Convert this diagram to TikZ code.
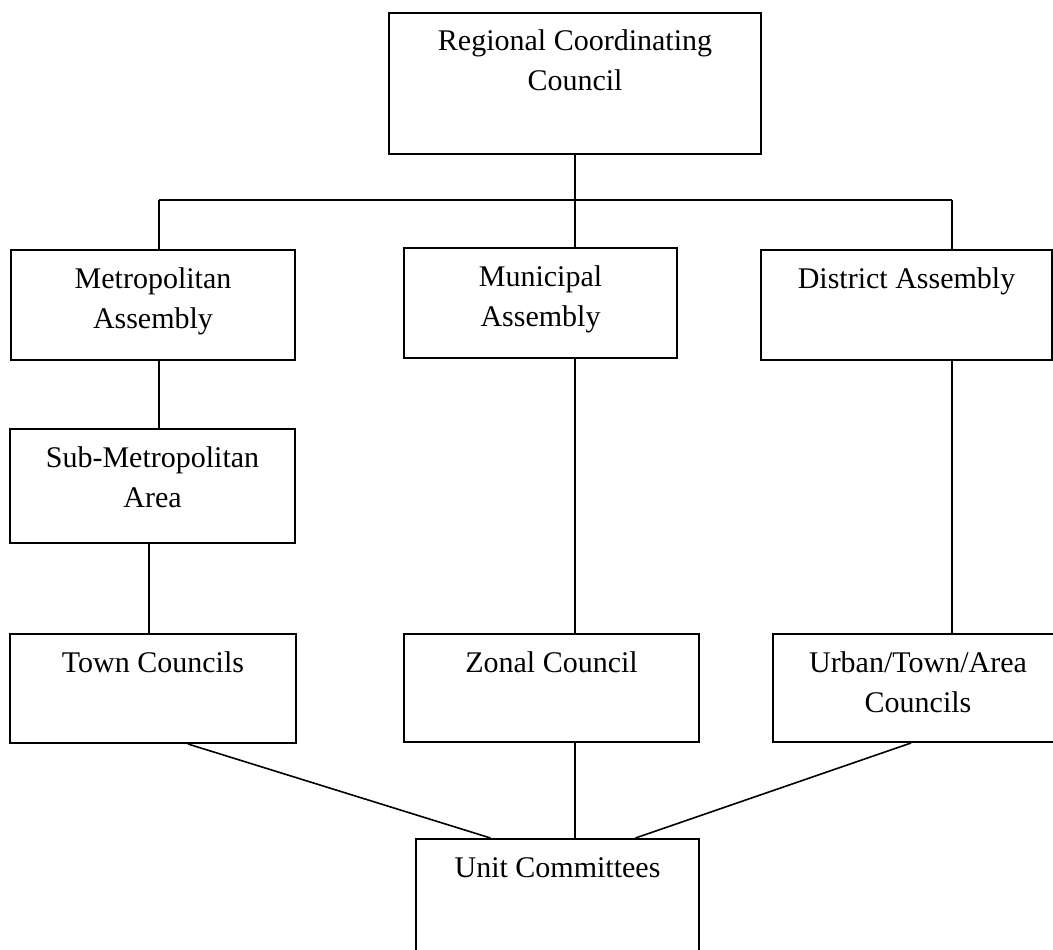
\documentclass[tikz,border=0pt]{standalone}
\usepackage{fontspec}
\setmainfont{Liberation Serif}

\begin{document}
\begin{tikzpicture}[x=1pt, y=-1pt,
	box/.style={draw, line width=2pt, inner sep=0pt, anchor=north west, align=center,
		text height=38pt, font=\fontsize{30}{40}\selectfont},
	twoline/.style={box, text height=78pt},
	link/.style={line width=1.6pt}]
		\useasboundingbox (0,0) rectangle (1053,950);
		% boxes
		\node[twoline, minimum width=372pt, text depth=63pt] (rcc) at (388,12) {Regional Coordinating\\Council};
		\node[twoline, minimum width=284pt, text depth=32pt] (metro) at (10,249) {Metropolitan\\Assembly};
		\node[twoline, minimum width=273pt, text depth=32pt] (muni) at (403,247) {Municipal\\Assembly};
		\node[box, minimum width=291pt, text depth=72pt] (dist) at (760,249) {District Assembly};
		\node[twoline, minimum width=285pt, text depth=36pt] (sub) at (9,428) {Sub-Metropolitan\\Area};
		\node[box, minimum width=286pt, text depth=71pt] (town) at (9,633) {Town Councils};
		\node[box, minimum width=295pt, text depth=70pt] (zonal) at (403,633) {Zonal Council};
		\node[twoline, minimum width=290pt, text depth=30pt] (urban) at (772,633) {Urban/Town/Area\\Councils};
		\node[box, minimum width=283pt, text depth=140pt] (unit) at (415,838) {Unit Committees};
		% bus under the council
		\coordinate (lft) at (159,200);
		\coordinate (rgt) at (952,200);
		\draw[link] (lft) -- (rgt);
		\draw[link] (rcc.south) -- (rcc.south |- muni.north);
		\draw[link] (lft) -- (lft |- metro.north);
		\draw[link] (rgt) -- (rgt |- dist.north);
		% columns
		\draw[link] (metro.south -| lft) -- (sub.north -| lft);
		\draw[link] ([xshift=-3.5pt]sub.south) -- ([xshift=-3.5pt]sub.south |- town.north);
		\draw[link] (muni.south -| rcc.south) -- (zonal.north -| rcc.south);
		\draw[link] (dist.south -| rgt) -- (urban.north -| rgt);
		% down to the unit committees
		\draw[link] ([xshift=35pt]town.south) -- ([xshift=-67pt]unit.north);
		\draw[link] (zonal.south -| rcc.south) -- (unit.north -| rcc.south);
		\draw[link] ([xshift=-7pt]urban.south) -- ([xshift=78pt]unit.north);
	\end{tikzpicture}
\end{document}
